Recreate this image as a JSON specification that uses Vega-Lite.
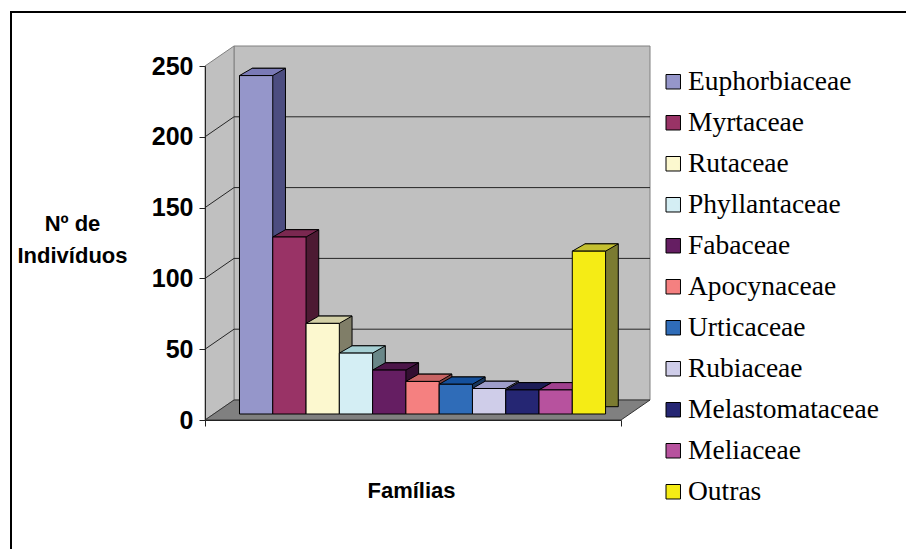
{
  "$schema": "https://vega.github.io/schema/vega-lite/v6.json",
  "width": 895,
  "height": 537,
  "autosize": {"type": "none"},
  "padding": {"left": 11, "top": 12, "right": 0, "bottom": 0},
  "background": "white",
  "config": {
    "font": "Liberation Sans",
    "view": {"stroke": "black", "strokeWidth": 2, "strokeDash": [895, 1432, 537], "fill": "white"}
  },
  "datasets": {
    "familias": [
      {"familia": "Euphorbiaceae", "n": 239},
      {"familia": "Myrtaceae", "n": 125},
      {"familia": "Rutaceae", "n": 64},
      {"familia": "Phyllantaceae", "n": 43},
      {"familia": "Fabaceae", "n": 31},
      {"familia": "Apocynaceae", "n": 23},
      {"familia": "Urticaceae", "n": 21},
      {"familia": "Rubiaceae", "n": 18},
      {"familia": "Melastomataceae", "n": 17},
      {"familia": "Meliaceae", "n": 17},
      {"familia": "Outras", "n": 115}
    ],
    "grade": [{"v": 50}, {"v": 100}, {"v": 150}, {"v": 200}]
  },
  "resolve": {
    "scale": {"xOffset": "independent", "fill": "independent"},
    "legend": {"fill": "independent"}
  },
  "layer": [
    {
      "data": {"values": [{}]},
      "mark": {"type": "bar", "fill": "#C0C0C0", "stroke": "#808080", "strokeWidth": 1, "xOffset": 29, "x2Offset": 29, "yOffset": -20, "y2Offset": -20},
      "encoding": {
        "x": {
          "datum": "Famílias", "type": "nominal",
          "scale": {"domain": ["Famílias"], "range": [194, 610], "paddingInner": 0, "paddingOuter": 0},
          "title": "Famílias",
          "axis": {
            "orient": "bottom", "offset": -129, "labels": false, "grid": false, "zindex": 1,
            "tickBand": "extent", "tickSize": 6, "tickColor": "#222", "domainColor": "#222",
            "title": "Famílias", "titleFontSize": 22, "titleFontWeight": "bold", "titleColor": "black",
            "titleBaseline": "alphabetic", "titleAlign": "center", "titleX": 400, "titleY": 77
          }
        },
        "y": {
          "datum": 0, "type": "quantitative",
          "scale": {"domain": [0, 250], "range": [408, 54], "nice": false, "zero": false},
          "title": ["Nº de", "Indivíduos"],
          "axis": {
            "orient": "left", "offset": -194, "values": [0, 50, 100, 150, 200, 250], "grid": false, "zindex": 1,
            "tickSize": 6, "tickColor": "#222", "domainColor": "#222", "labelPadding": 6,
            "labelFontSize": 25, "labelFontWeight": "bold", "labelColor": "black",
            "title": ["Nº de", "Indivíduos"], "titleAngle": 0, "titleAlign": "center", "titleBaseline": "alphabetic",
            "titleX": -133, "titleY": 218, "titleLineHeight": 32, "titleFontSize": 22, "titleFontWeight": "bold", "titleColor": "black"
          }
        },
        "y2": {"datum": 250}
      }
    },
    {
      "data": {"values": [{}]},
      "mark": {"type": "point", "shape": "M-0.832,0L-0.832,-1.416L-0.716,-1.496L-0.716,-0.08Z", "size": 250000, "filled": true, "opacity": 1, "fill": "#C0C0C0", "stroke": "#808080", "strokeWidth": 1},
      "encoding": {
        "x": {"datum": "Famílias", "type": "nominal"},
        "y": {"datum": 0, "type": "quantitative"}
      }
    },
    {
      "data": {"values": [{}]},
      "mark": {"type": "point", "shape": "M-0.832,0L0.832,0L0.948,-0.08L-0.716,-0.08Z", "size": 250000, "filled": true, "opacity": 1, "fill": "#808080", "stroke": "#333333", "strokeWidth": 1},
      "encoding": {
        "x": {"datum": "Famílias", "type": "nominal"},
        "y": {"datum": 0, "type": "quantitative"}
      }
    },
    {
      "data": {"name": "grade"},
      "mark": {"type": "rule", "color": "#262626", "strokeWidth": 1, "xOffset": -179, "x2Offset": 237, "yOffset": -20},
      "encoding": {
        "x": {"datum": "Famílias", "type": "nominal"},
        "x2": {"datum": "Famílias"},
        "y": {"field": "v", "type": "quantitative"}
      }
    },
    {
      "data": {"name": "grade"},
      "mark": {"type": "rule", "color": "#262626", "strokeWidth": 1, "xOffset": -208, "x2Offset": -179, "y2Offset": -20},
      "encoding": {
        "x": {"datum": "Famílias", "type": "nominal"},
        "x2": {"datum": "Famílias"},
        "y": {"field": "v", "type": "quantitative"},
        "y2": {"field": "v"}
      }
    },
    {
      "data": {"name": "familias"},
      "mark": {"type": "bar", "stroke": "black", "strokeWidth": 1, "yOffset": -13.3, "y2Offset": -13.3},
      "encoding": {
        "x": {"datum": "Famílias", "type": "nominal"},
        "xOffset": {
          "field": "familia", "type": "nominal",
          "scale": {"type": "band", "domain": ["Euphorbiaceae", "Myrtaceae", "Rutaceae", "Phyllantaceae", "Fabaceae", "Apocynaceae", "Urticaceae", "Rubiaceae", "Melastomataceae", "Meliaceae", "Outras"], "paddingInner": 0, "paddingOuter": 0.75, "align": 0.9455}
        },
        "y": {"field": "n", "type": "quantitative"},
        "fill": {
          "field": "familia", "type": "nominal", "legend": null,
          "scale": {
            "domain": ["Euphorbiaceae", "Myrtaceae", "Rutaceae", "Phyllantaceae", "Fabaceae", "Apocynaceae", "Urticaceae", "Rubiaceae", "Melastomataceae", "Meliaceae", "Outras"],
            "range": ["#4C4D80", "#4D1A33", "#807E68", "#698788", "#330F31", "#7A4040", "#17365C", "#686874", "#131339", "#5C294F", "#7B7B31"]
          }
        }
      }
    },
    {
      "data": {"name": "familias"},
      "mark": {"type": "point", "shape": "M-0.5547,0L0.5547,0L0.978,-0.2433L-0.1313,-0.2433Z", "size": 3600, "filled": true, "opacity": 1, "stroke": "black", "strokeWidth": 1, "yOffset": -6},
      "encoding": {
        "x": {"datum": "Famílias", "type": "nominal"},
        "xOffset": {
          "field": "familia", "type": "nominal",
          "scale": {"type": "band", "domain": ["Euphorbiaceae", "Myrtaceae", "Rutaceae", "Phyllantaceae", "Fabaceae", "Apocynaceae", "Urticaceae", "Rubiaceae", "Melastomataceae", "Meliaceae", "Outras"], "paddingInner": 0, "paddingOuter": 0.75, "align": 0.691}
        },
        "y": {"field": "n", "type": "quantitative"},
        "fill": {
          "field": "familia", "type": "nominal", "legend": null,
          "scale": {
            "domain": ["Euphorbiaceae", "Myrtaceae", "Rutaceae", "Phyllantaceae", "Fabaceae", "Apocynaceae", "Urticaceae", "Rubiaceae", "Melastomataceae", "Meliaceae", "Outras"],
            "range": ["#7A7AB6", "#7A2850", "#D2CFA6", "#A6D0D4", "#4C1649", "#C86464", "#14509C", "#9E9ECA", "#1C1C56", "#A0408E", "#C4C030"]
          }
        }
      }
    },
    {
      "data": {"name": "familias"},
      "mark": {"type": "bar", "stroke": "black", "strokeWidth": 1, "yOffset": -6, "y2Offset": -6},
      "encoding": {
        "x": {"datum": "Famílias", "type": "nominal"},
        "xOffset": {
          "field": "familia", "type": "nominal",
          "scale": {"type": "band", "domain": ["Euphorbiaceae", "Myrtaceae", "Rutaceae", "Phyllantaceae", "Fabaceae", "Apocynaceae", "Urticaceae", "Rubiaceae", "Melastomataceae", "Meliaceae", "Outras"], "paddingInner": 0, "paddingOuter": 0.75, "align": 0.691}
        },
        "y": {"field": "n", "type": "quantitative", "title": ["Nº de", "Indivíduos"]},
        "fill": {
          "field": "familia", "type": "nominal",
          "scale": {
            "domain": ["Euphorbiaceae", "Myrtaceae", "Rutaceae", "Phyllantaceae", "Fabaceae", "Apocynaceae", "Urticaceae", "Rubiaceae", "Melastomataceae", "Meliaceae", "Outras"],
            "range": ["#9596CA", "#993366", "#FCF8CF", "#D4EEF4", "#651E62", "#F58080", "#2F6CB8", "#CFCDE9", "#252673", "#B7529E", "#F5EC15"]
          },
          "legend": {
            "title": null, "orient": "none", "legendX": 648.5, "legendY": 56, "padding": 0,
            "symbolType": "square", "symbolSize": 210, "symbolStrokeColor": "black", "symbolStrokeWidth": 1,
            "labelFont": "Liberation Serif", "labelFontSize": 27.5, "labelColor": "black", "labelOffset": 1,
            "labelLimit": 400, "rowPadding": 12
          }
        }
      }
    }
  ]
}
